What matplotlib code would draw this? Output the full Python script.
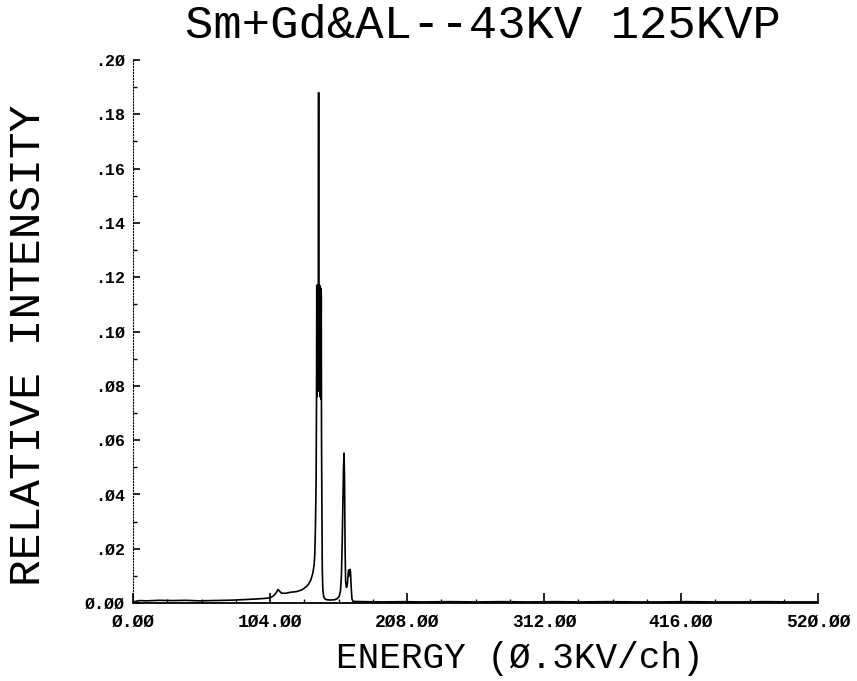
import numpy as np
import matplotlib
matplotlib.use('Agg')
import matplotlib.pyplot as plt
from matplotlib.ticker import MultipleLocator, FixedLocator

# spectrum: channel number and relative intensity
channel = [0, 5, 10, 20, 30, 40, 50, 60, 70, 78, 86, 94, 100, 104, 106.5,
           108.5, 110, 111.5, 113, 116, 120, 124, 128, 131, 133, 135, 136.5,
           137.5, 138.0, 138.5, 139.0, 139.3,
           139.5, 139.7, 139.9, 140.1, 140.3, 140.5, 140.7, 140.9, 141.1,
           141.3, 141.5, 141.7, 141.9, 142.1, 142.3, 142.5, 142.7, 142.9,
           143.1, 143.4, 143.7, 144.1, 144.7, 145.5, 147, 150, 153, 155,
           156.5, 157.5, 158.2, 158.8, 159.3, 159.8, 160.2, 160.6, 161.0,
           161.4, 161.9, 162.5, 163.0, 163.5, 163.9, 164.3, 164.7, 165.1,
           165.6, 166.2, 167.0, 175, 190, 205, 220, 240, 260, 280, 300, 320,
           340, 360, 380, 400, 420, 440, 460, 480, 500, 520]
intensity = [0.0004, 0.0009, 0.0008, 0.0010, 0.0009, 0.0010, 0.0008, 0.0009,
             0.0010, 0.0011, 0.0013, 0.0015, 0.0017, 0.0019, 0.0026,
             0.0036, 0.0050, 0.0042, 0.0036, 0.0036, 0.0040, 0.0042, 0.0048,
             0.0058, 0.0068, 0.0085, 0.0110, 0.0140, 0.0180, 0.0280, 0.0450,
             0.0750,
             0.1170, 0.0760, 0.1160, 0.0780, 0.1170, 0.0800, 0.1150, 0.1880,
             0.0820, 0.1160, 0.0780, 0.1170, 0.0760, 0.1150, 0.0770, 0.1160,
             0.0750, 0.1140,
             0.0620, 0.0350, 0.0120, 0.0050, 0.0025, 0.0016, 0.0012, 0.0011,
             0.0012, 0.0016, 0.0024, 0.0045, 0.0100, 0.0220, 0.0360, 0.0500,
             0.0552, 0.0450, 0.0200, 0.0080, 0.0058, 0.0060, 0.0085, 0.0118,
             0.0122, 0.0100, 0.0124, 0.0115, 0.0060, 0.0015, 0.0006, 0.0005,
             0.0004, 0.0005, 0.0004, 0.0005, 0.0004, 0.0005, 0.0004, 0.0005,
             0.0004, 0.0005, 0.0004, 0.0004, 0.0005, 0.0004, 0.0004, 0.0005,
             0.0004, 0.0004]

xticks = [0, 104, 208, 312, 416, 520]
xticklabels = ['Ø.ØØ', '1Ø4.ØØ', '2Ø8.ØØ', '312.ØØ', '416.ØØ', '52Ø.ØØ']
yticks = [0.00, 0.02, 0.04, 0.06, 0.08, 0.10, 0.12, 0.14, 0.16, 0.18, 0.20]
yticklabels = ['Ø.ØØ', '.Ø2', '.Ø4', '.Ø6', '.Ø8', '.1Ø', '.12', '.14',
               '.16', '.18', '.2Ø']

mono = 'Liberation Mono'

fig = plt.figure(figsize=(8.57, 6.81), dpi=100)
ax = fig.add_axes([0.1552, 0.1145, 0.7993, 0.7974])

ax.plot(channel, intensity, color='black', linewidth=1.2)

ax.set_xlim(0, 520)
ax.set_ylim(0, 0.20)

for side in ['top', 'right']:
    ax.spines[side].set_visible(False)
ax.spines['bottom'].set_linewidth(1.3)
ax.spines['left'].set_linewidth(0.8)
ax.spines['left'].set_linestyle(':')

ax.xaxis.set_major_locator(FixedLocator(xticks))
ax.xaxis.set_minor_locator(MultipleLocator(26))
ax.yaxis.set_major_locator(FixedLocator(yticks))
ax.yaxis.set_minor_locator(MultipleLocator(0.01))
ax.set_xticklabels(xticklabels, fontfamily=mono, fontweight='bold', fontsize=13)
ax.set_yticklabels(yticklabels, fontfamily=mono, fontweight='bold', fontsize=12)

ax.tick_params(axis='x', which='major', direction='in', length=7, width=1.2, pad=8)
ax.tick_params(axis='x', which='minor', direction='in', length=3, width=1.0)
ax.tick_params(axis='y', which='major', direction='in', length=5, width=1.2, pad=6)
ax.tick_params(axis='y', which='minor', direction='in', length=3, width=1.0)

fig.text(0.563, 0.962, 'Sm+Gd&AL--43KV 125KVP', fontfamily=mono, fontsize=34,
         ha='center', va='center')
fig.text(0.033, 0.493, 'RELATIVE INTENSITY', fontfamily=mono, fontsize=32,
         rotation=90, ha='center', va='center')
fig.text(0.606, 0.033, 'ENERGY (Ø.3KV/ch)', fontfamily=mono, fontsize=26,
         ha='center', va='center')

plt.savefig('out.png', dpi=100)
